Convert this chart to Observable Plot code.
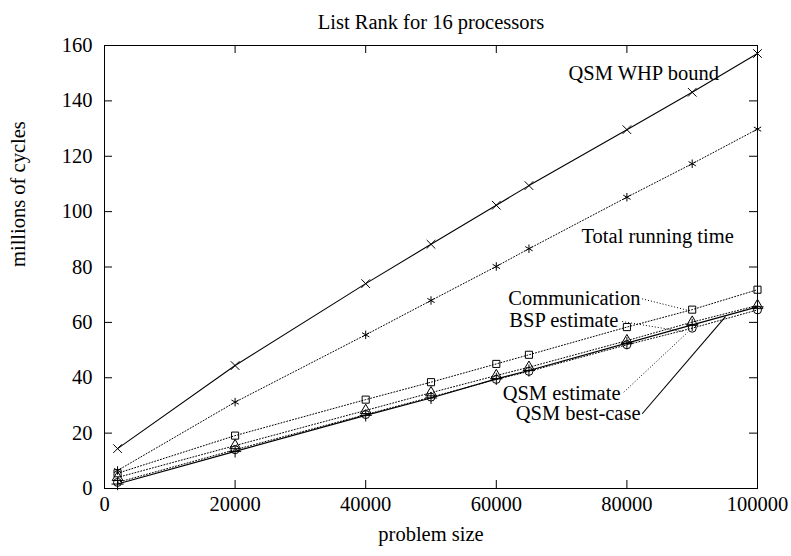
<!DOCTYPE html>
<html><head><meta charset="utf-8">
<script src="https://cdn.jsdelivr.net/npm/d3@7"></script>
<script src="https://cdn.jsdelivr.net/npm/@observablehq/plot@0.6"></script>
<style>body{margin:0;background:#fff} svg, svg text{font-family:"Liberation Serif",serif}</style>
</head><body><div id="chart"></div><script>
// ---- data ----
const problemSize = [2000, 20000, 40000, 50000, 60000, 65000, 80000, 90000, 100000];
const qsmWhpBound   = [14.4, 44.4, 74.0, 88.2, 102.3, 109.4, 129.6, 143.1, 157.1];
const totalRunning  = [6.5, 31.2, 55.5, 67.9, 80.2, 86.6, 105.2, 117.3, 129.8];
const communication = [5.5, 19.1, 32.1, 38.4, 45.0, 48.3, 58.3, 64.6, 71.8];
const bspEstimate   = [4.0, 15.5, 28.2, 34.6, 40.8, 43.8, 53.4, 60.1, 66.1];
const qsmEstimate   = [2.2, 14.0, 26.7, 33.0, 39.4, 42.3, 51.9, 57.9, 64.5];
const qsmBestCase   = [1.6, 13.4, 26.4, 32.7, 39.6, 42.6, 52.5, 59.1, 65.6];
const seriesNames = ["QSM WHP bound", "Total running time", "Communication", "BSP estimate", "QSM estimate", "QSM best-case"];
const seriesValues = [qsmWhpBound, totalRunning, communication, bspEstimate, qsmEstimate, qsmBestCase];
const seriesSymbols = ["times", "asterisk", "square", "triangle", "circle", "plus"];
const seriesSolid = [true, false, false, false, false, true];
const xTicks = [0, 20000, 40000, 60000, 80000, 100000];
const yTicks = [0, 20, 40, 60, 80, 100, 120, 140, 160];
const titleText = "List Rank for 16 processors";
const xLabel = "problem size";
const yLabel = "millions of cycles";
// annotation labels (data coordinates) and pointer ends
const leftLabels = [
  {text: "QSM WHP bound", x: 71060, y: 149.9},
  {text: "Total running time", x: 73050, y: 91.0}
];
const rightLabels = [
  {text: "Communication", x: 82080, y: 68.6, x1: 82340, y1: 68.5, x2: 89430, y2: 64.3, solid: false},
  {text: "BSP estimate", x: 78710, y: 60.7, x1: 79280, y1: 60.3, x2: 88800, y2: 56.6, solid: false},
  {text: "QSM estimate", x: 79020, y: 34.3, x1: 79520, y1: 34.8, x2: 89300, y2: 56.4, solid: false},
  {text: "QSM best-case", x: 82080, y: 27.1, x1: 82340, y1: 27.0, x2: 95100, y2: 62.1, solid: true}
];

// ---- build ----
const rows = seriesNames.flatMap((name, s) =>
  problemSize.map((x, i) => ({series: name, x, y: seriesValues[s][i], solid: seriesSolid[s]})));

const W = 791, H = 556, mL = 104, mR = 34, mT = 45, mB = 68;
const plotW = W - mL - mR, plotH = H - mT - mB, tk = 8;
const serif = "'Liberation Serif', 'Times New Roman', serif";
const fs = 20.5;

const chart = Plot.plot({
  width: W, height: H,
  marginLeft: mL, marginRight: mR, marginTop: mT, marginBottom: mB,
  style: {fontFamily: serif, fontSize: fs + "px", background: "white", color: "black", overflow: "visible"},
  x: {domain: [0, 100000]},
  y: {domain: [0, 160]},
  symbol: {domain: seriesNames, range: seriesSymbols},
  marks: [
    // inward ticks on all four sides
    Plot.tickX(xTicks, {x: d => d, insetTop: plotH - tk, stroke: "black"}),
    Plot.tickX(xTicks, {x: d => d, insetBottom: plotH - tk, stroke: "black"}),
    Plot.tickY(yTicks, {y: d => d, insetRight: plotW - tk, stroke: "black"}),
    Plot.tickY(yTicks, {y: d => d, insetLeft: plotW - tk, stroke: "black"}),
    Plot.axisX(xTicks, {anchor: "bottom", tickSize: 0, tickPadding: 8, tickFormat: d => String(d), label: null, fontSize: fs, fontFamily: serif}),
    Plot.axisY(yTicks, {anchor: "left", tickSize: 0, tickPadding: 12, tickFormat: d => String(d), label: null, fontSize: fs, fontFamily: serif}),
    Plot.frame({stroke: "black"}),
    Plot.line(rows.filter(d => d.solid), {x: "x", y: "y", z: "series", stroke: "black", strokeWidth: 1.1}),
    Plot.line(rows.filter(d => !d.solid), {x: "x", y: "y", z: "series", stroke: "black", strokeWidth: 1, strokeDasharray: "1,2"}),
    Plot.link(rightLabels.filter(d => d.solid), {x1: "x1", y1: "y1", x2: "x2", y2: "y2", stroke: "black", strokeWidth: 1.1}),
    Plot.link(rightLabels.filter(d => !d.solid), {x1: "x1", y1: "y1", x2: "x2", y2: "y2", stroke: "black", strokeWidth: 1, strokeDasharray: "1,2"}),
    Plot.dot(rows, {x: "x", y: "y", symbol: "series", r: 4, stroke: "black", fill: "none", strokeWidth: 1}),
    Plot.text(leftLabels, {x: "x", y: "y", text: "text", textAnchor: "start", fontSize: fs, fontFamily: serif, fill: "black"}),
    Plot.text(rightLabels, {x: "x", y: "y", text: "text", textAnchor: "end", fontSize: fs, fontFamily: serif, fill: "black"}),
    Plot.text([titleText], {frameAnchor: "top", dy: -31, fontSize: fs, fontFamily: serif, fill: "black"}),
    Plot.text([xLabel], {frameAnchor: "bottom", dy: 52, fontSize: fs, fontFamily: serif, fill: "black"}),
    Plot.text([yLabel], {frameAnchor: "left", dx: -86, rotate: -90, fontSize: fs, fontFamily: serif, fill: "black"})
  ]
});
document.getElementById("chart").appendChild(chart);
</script></body></html>
